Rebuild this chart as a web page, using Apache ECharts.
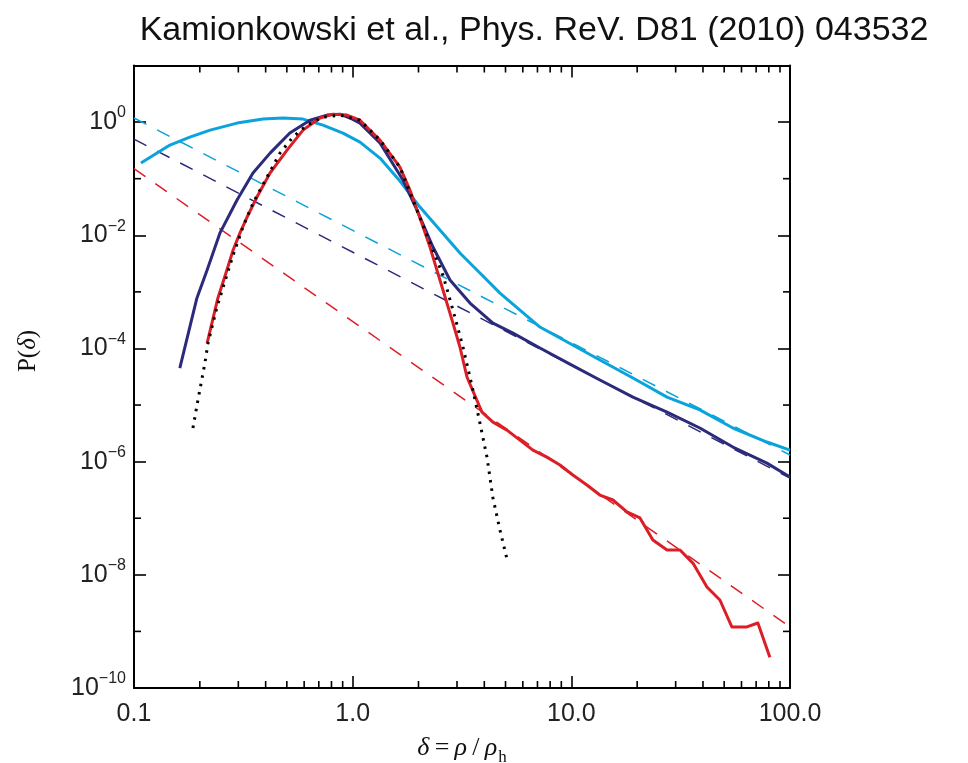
<!DOCTYPE html>
<html><head><meta charset="utf-8">
<script src="https://cdn.jsdelivr.net/npm/echarts@6/dist/echarts.min.js"></script>
<style>html,body{margin:0;padding:0;background:#fff}#c{width:968px;height:763px}</style>
</head><body><div id="c"></div>
<script>
// ---- data ----
const cyanX = [0.1076, 0.146, 0.180, 0.223, 0.296, 0.389, 0.480, 0.593, 0.731, 0.903, 1.08, 1.333, 1.645, 2.031, 2.506, 3.094, 3.82, 4.716, 5.821, 7.184, 8.87, 13.51, 19.13, 27.4, 38.7, 54.8, 78.4, 100];
const cyanY = [0.189, 0.393, 0.543, 0.722, 0.96, 1.13, 1.18, 1.13, 0.885, 0.64, 0.443, 0.231, 0.0907, 0.0315, 0.01236, 0.00485, 0.00215, 9.5e-4, 4.77e-4, 2.39e-4, 1.53e-4, 6.24e-5, 3.0e-5, 1.38e-5, 8.2e-6, 3.93e-6, 2.22e-6, 1.6e-6];

const navyX = [0.162, 0.194, 0.216, 0.247, 0.296, 0.350, 0.419, 0.516, 0.638, 0.763, 0.875, 0.972, 1.08, 1.333, 1.698, 1.968, 2.329, 2.786, 3.439, 4.381, 5.408, 7.184, 9.85, 13.51, 19.13, 27.4, 38.7, 54.8, 78.4, 100];
const navyY = [4.5e-5, 7.8e-4, 2.43e-3, 0.0109, 0.0419, 0.126, 0.283, 0.64, 1.08, 1.33, 1.38, 1.18, 0.96, 0.426, 0.0945, 0.0279, 6.19e-3, 1.62e-3, 6.34e-4, 2.81e-4, 1.87e-4, 1.02e-4, 5.3e-5, 2.77e-5, 1.38e-5, 7.5e-6, 3.93e-6, 1.81e-6, 9.4e-7, 5.35e-7];

const redX = [0.216, 0.242, 0.266, 0.284, 0.305, 0.329, 0.365, 0.419, 0.501, 0.593, 0.709, 0.813, 0.942, 1.08, 1.333, 1.645, 1.828, 2.031, 2.257, 2.588, 2.875, 3.094, 3.332, 3.902, 4.381, 5.076, 6.673, 7.73, 8.87, 10.16, 11.78, 13.51, 15.49, 17.95, 20.6, 23.6, 27.4, 31.4, 35.97, 41.7, 47.8, 54.2, 63.5, 71.3, 80.9];
const redY = [1.245e-4, 7.8e-4, 2.43e-3, 5.48e-3, 0.0109, 0.021, 0.0473, 0.126, 0.32, 0.722, 1.18, 1.38, 1.33, 1.08, 0.481, 0.16, 0.0629, 0.0201, 6.19e-3, 1.08e-3, 2.81e-4, 1.06e-4, 3.13e-5, 7.5e-6, 5.0e-6, 3.61e-6, 1.6e-6, 1.2e-6, 8.7e-7, 5.8e-7, 3.86e-7, 2.57e-7, 2.1e-7, 1.29e-7, 1.01e-7, 4.12e-8, 2.74e-8, 2.74e-8, 1.61e-8, 6.08e-9, 3.59e-9, 1.2e-9, 1.2e-9, 1.41e-9, 3.5e-10];

const fitX = [0.186, 0.196, 0.211, 0.218, 0.2395, 0.284, 0.315, 0.350, 0.406, 0.465, 0.533, 0.618, 0.731, 0.875, 1.08, 1.333, 1.645, 1.968, 2.257, 2.588, 2.875, 3.194, 3.548, 3.82, 4.113, 4.381, 4.716, 5.129];
const fitY = [3.93e-6, 1.22e-5, 5.5e-5, 1.245e-4, 5.4e-4, 4.47e-3, 0.014, 0.037, 0.107, 0.283, 0.543, 0.885, 1.22, 1.33, 1.08, 0.481, 0.16, 0.0279, 7.28e-3, 1.98e-3, 4.77e-4, 1.06e-4, 1.84e-5, 4.8e-6, 1.2e-6, 2.28e-7, 6.2e-8, 1.61e-8];

const cyanDashX = [0.1, 100];
const cyanDashY = [1.18, 1.31e-6];
const navyDashX = [0.1, 100];
const navyDashY = [0.5, 5.1e-7];
const redDashX = [0.1, 100];
const redDashY = [0.15, 1.2e-9];

const xTickValues = [0.1, 1, 10, 100];
const xTickLabels = ['0.1', '1.0', '10.0', '100.0'];
const yTickExps = [-10, -8, -6, -4, -2, 0];
const xMinorTicks = [0.2, 0.3, 0.4, 0.5, 0.6, 0.7, 0.8, 0.9, 2, 3, 4, 5, 6, 7, 8, 9, 20, 30, 40, 50, 60, 70, 80, 90];
const yMinorTicks = [1e-9, 1e-7, 1e-5, 1e-3, 1e-1];

const titleText = 'Kamionkowski et al., Phys. ReV. D81 (2010) 043532';

// ---- chart ----
const X_MIN = 0.1, X_MAX = 100, Y_MIN = 1e-10, Y_MAX = 10;
const C_CYAN = '#0aa3dc', C_NAVY = '#2b2a7b', C_RED = '#dc1f27';
const SANS = "'Liberation Sans', Arial, sans-serif";
const SERIF = "'Liberation Serif', 'DejaVu Serif', serif";

function zip(xs, ys) { return xs.map((x, i) => [x, ys[i]]); }
function expOf(v) { return Math.round(Math.log10(v)); }

const axisLine = { show: true, onZero: false, lineStyle: { color: '#000', width: 2 } };
const majorTick = { show: true, inside: true, length: 12, lineStyle: { color: '#000', width: 1.6 } };

function xLabel(v) {
  const e = expOf(v);
  const i = xTickValues.findIndex(t => expOf(t) === e);
  return i >= 0 ? xTickLabels[i] : '';
}
function yLabel(v) {
  const e = expOf(v);
  if (yTickExps.indexOf(e) < 0) return '';
  return '{b|10}{s|' + (e < 0 ? '\u2212' + (-e) : String(e)) + '}';
}

const baseX = { type: 'log', logBase: 10, min: X_MIN, max: X_MAX, interval: 1, splitLine: { show: false }, axisLine, axisTick: majorTick };
const baseY = { type: 'log', logBase: 10, min: Y_MIN, max: Y_MAX, interval: 2, splitLine: { show: false }, axisLine, axisTick: majorTick };

function lineSeries(name, xs, ys, color, width, type, z) {
  return {
    name, type: 'line', xAxisIndex: 0, yAxisIndex: 0,
    data: zip(xs, ys), showSymbol: false, symbol: 'none', smooth: false,
    lineStyle: { color, width, type, cap: 'butt', join: 'round' },
    emphasis: { disabled: true }, silent: true, z, clip: true
  };
}

const tickStyle = { stroke: '#000', lineWidth: 1.6 };

const option = {
  animation: false,
  grid: { left: 134, right: 178, top: 65.5, bottom: 75, containLabel: false, outerBoundsMode: 'none' },
  xAxis: [
    Object.assign({}, baseX, {
      position: 'bottom',
      axisLabel: { show: true, margin: 14, showMinLabel: true, showMaxLabel: true, fontFamily: SANS, fontSize: 25, color: '#222', formatter: xLabel },
      name: '{i|\u03b4}{n|\u2009=\u2009}{i|\u03c1}{n|\u2009/\u2009}{i|\u03c1}{sub|h}',
      nameLocation: 'middle', nameGap: 43,
      nameTextStyle: {
        rich: {
          i: { fontFamily: SERIF, fontStyle: 'italic', fontSize: 26, color: '#111', lineHeight: 30, verticalAlign: 'bottom' },
          n: { fontFamily: SERIF, fontSize: 26, color: '#111', lineHeight: 30, verticalAlign: 'bottom' },
          sub: { fontFamily: SERIF, fontSize: 17, color: '#111', lineHeight: 17, verticalAlign: 'bottom', padding: [0, 0, -5, 1] }
        }
      }
    }),
    Object.assign({}, baseX, { position: 'top', axisLabel: { show: false } })
  ],
  yAxis: [
    Object.assign({}, baseY, {
      position: 'left',
      axisLabel: {
        show: true, margin: 8, showMinLabel: true, showMaxLabel: true, formatter: yLabel,
        rich: {
          b: { fontFamily: SANS, fontSize: 25, color: '#222', lineHeight: 34, verticalAlign: 'middle' },
          s: { fontFamily: SANS, fontSize: 16, color: '#222', lineHeight: 16, verticalAlign: 'top' }
        }
      }
    }),
    Object.assign({}, baseY, { position: 'right', axisLabel: { show: false } })
  ],
  graphic: [
    { type: 'text', x: 534, y: 31, silent: true,
      style: { text: titleText, font: "34px 'Liberation Sans', Arial, sans-serif", fill: '#111', align: 'center', verticalAlign: 'middle' } },
    { type: 'text', x: 28, y: 351, rotation: Math.PI / 2, silent: true,
      style: {
        text: '{n|P(}{i|\u03b4}{n|)}', align: 'center', verticalAlign: 'middle',
        rich: {
          n: { fontFamily: SERIF, fontSize: 25, fill: '#111' },
          i: { fontFamily: SERIF, fontStyle: 'italic', fontSize: 25, fill: '#111' }
        }
      } }
  ],
  series: [
    {
      name: 'xMinor', type: 'custom', coordinateSystem: 'cartesian2d', xAxisIndex: 0, yAxisIndex: 0, silent: true, z: 10,
      data: xMinorTicks.map(v => [v, 1]),
      renderItem: (params, api) => {
        const v = api.value(0);
        const b = api.coord([v, Y_MIN]);
        const t = api.coord([v, Y_MAX]);
        return { type: 'group', children: [
          { type: 'line', shape: { x1: b[0], y1: b[1], x2: b[0], y2: b[1] - 7 }, style: tickStyle },
          { type: 'line', shape: { x1: t[0], y1: t[1], x2: t[0], y2: t[1] + 7 }, style: tickStyle }
        ] };
      }
    },
    {
      name: 'yMinor', type: 'custom', coordinateSystem: 'cartesian2d', xAxisIndex: 0, yAxisIndex: 0, silent: true, z: 10,
      data: yMinorTicks.map(v => [1, v]),
      renderItem: (params, api) => {
        const v = api.value(1);
        const l = api.coord([X_MIN, v]);
        const r = api.coord([X_MAX, v]);
        return { type: 'group', children: [
          { type: 'line', shape: { x1: l[0], y1: l[1], x2: l[0] + 7, y2: l[1] }, style: tickStyle },
          { type: 'line', shape: { x1: r[0], y1: r[1], x2: r[0] - 7, y2: r[1] }, style: tickStyle }
        ] };
      }
    },
    lineSeries('cyanDash', cyanDashX, cyanDashY, C_CYAN, 1.5, [14, 12], 2),
    lineSeries('navyDash', navyDashX, navyDashY, C_NAVY, 1.5, [14, 12], 2),
    lineSeries('redDash', redDashX, redDashY, C_RED, 1.5, [14, 12], 2),
    lineSeries('cyan', cyanX, cyanY, C_CYAN, 3, 'solid', 3),
    lineSeries('navy', navyX, navyY, C_NAVY, 3, 'solid', 3),
    lineSeries('red', redX, redY, C_RED, 3, 'solid', 4),
    lineSeries('fit', fitX, fitY, '#000', 3, [2.5, 6], 5)
  ]
};

const chart = echarts.init(document.getElementById('c'), null, { renderer: 'canvas' });
chart.setOption(option);
</script>
</body></html>
